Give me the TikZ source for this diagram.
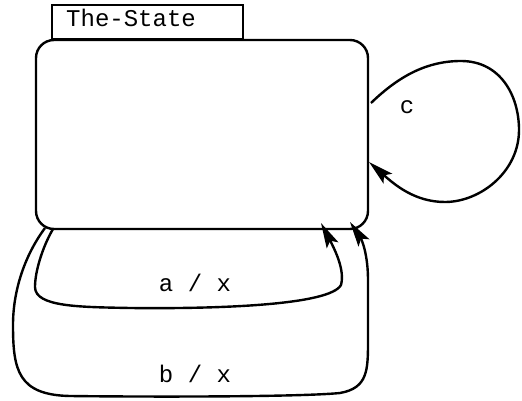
\documentclass[tikz,border=0pt]{standalone}
\usepackage{fontspec}
\setmonofont{Liberation Mono}
\usetikzlibrary{arrows.meta}

\tikzset{
  trans/.style={line width=2.4pt, arrows={-Stealth[length=25pt, width=13pt, inset=5pt]}},
  lbl/.style={font=\ttfamily\fontsize{24}{28}\selectfont, inner sep=0pt, anchor=base}
}

\begin{document}
\begin{tikzpicture}[x=1pt, y=1pt]
\useasboundingbox (0,0) rectangle (522,400);
%state box and its name tab
\node[draw, line width=2.4pt, rounded corners=18pt, minimum width=332pt, minimum height=189pt] (state) at (202,265.5) {};
\node[draw, line width=2pt, minimum width=191pt, minimum height=34pt, anchor=south west] (tab) at (51,360) {};
\node[lbl, anchor=base west] (name) at (66,373) {The-State};

%self loop coords
\coordinate (cout) at (371,297); \coordinate (ctop) at (461,339); \coordinate (cright) at (519,270); \coordinate (cbot) at (445,198); \coordinate (cin) at (369,238);
%self loop draw
\draw[trans] (cout) .. controls (400,325) and (428,339) .. (ctop) .. controls (500,339) and (519,305) .. (cright) .. controls (519,228) and (480,198) .. (cbot) .. controls (415,198) and (395,215) .. (cin);
\node[lbl] (c) at (407,287) {c};

%inner loop coords
\coordinate (aout) at (53,171); \coordinate (aleft) at (35,113); \coordinate (abot) at (130,92); \coordinate (aright) at (341,115); \coordinate (ain) at (321,177);
%inner loop draw
\draw[trans] (aout) .. controls (42,152) and (35,128) .. (aleft) .. controls (35,93) and (80,93) .. (abot) .. controls (220,91) and (330,95) .. (aright) .. controls (345,130) and (335,150) .. (ain);
\node[lbl] (a) at (195,109) {a / x};

%outer loop coords
\coordinate (bout) at (45,172); \coordinate (bleft) at (13,75); \coordinate (bbot) at (70,4); \coordinate (bright) at (368,60); \coordinate (bin) at (350,178);
%outer loop draw
\draw[trans] (bout) .. controls (25,145) and (13,110) .. (bleft) .. controls (13,30) and (18,5) .. (bbot) .. controls (150,3) and (300,3) .. (340,7) .. controls (368,12) and (368,30) .. (bright) -- (368,120) .. controls (368,145) and (362,160) .. (bin);
\node[lbl] (b) at (195,18) {b / x};
\end{tikzpicture}
\end{document}
